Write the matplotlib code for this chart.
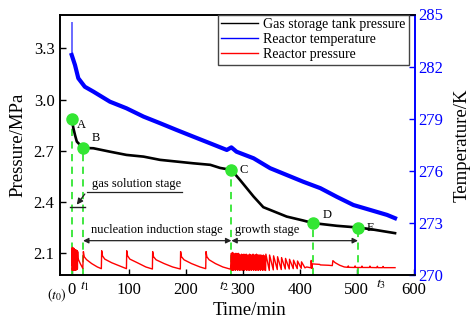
import matplotlib
matplotlib.use('Agg')
import matplotlib.pyplot as plt
import matplotlib.transforms as mtransforms

plt.rcParams['font.family'] = ['Liberation Serif', 'DejaVu Serif']
plt.rcParams['mathtext.fontset'] = 'stix'

# ---------------- data ----------------
tank_t = [0, 3, 6, 9, 14.5, 20, 38, 67, 96, 126, 155, 184, 213, 243, 260, 280,
          295, 319, 336, 348, 377, 406, 423, 465, 502, 523, 567]
tank_p = [2.886, 2.832, 2.79, 2.754, 2.735, 2.717, 2.715, 2.695, 2.676, 2.666,
          2.647, 2.637, 2.627, 2.618, 2.60, 2.588, 2.53, 2.432, 2.37, 2.354,
          2.315, 2.292, 2.277, 2.261, 2.251, 2.242, 2.218]

temp_t = [0, 0, 5.8, 11.6, 23, 38, 67, 96, 126, 155, 184, 213, 243, 272, 280,
          289, 319, 348, 377, 406, 436, 465, 494, 523, 553, 567]
temp_k = [284.49, 282.67, 282.09, 281.33, 280.84, 280.56, 279.98, 279.6, 279.12,
          278.74, 278.35, 277.97, 277.58, 277.2, 277.35, 277.1, 276.72, 276.15,
          275.76, 275.37, 275.0, 274.5, 274.03, 273.75, 273.46, 273.27]

rp_t = [0, 0.5, 1, 1.5, 2, 2.5, 3, 3.5, 4, 4.5, 5, 5.5, 6, 6.5, 7, 7.5, 8, 8.5,
        9, 9.5, 10, 10.5, 11, 15, 19.5,
        20.5, 22, 26, 35, 45, 52,
        52.6, 54, 58, 70, 85, 96,
        96.5, 98, 102, 115, 130, 141.5,
        142, 143.5, 148, 162, 177, 190.5,
        191, 192.5, 197, 210, 225, 235,
        235.6, 237, 241, 252, 265, 278.5,
        280, 281, 282, 283, 284, 285, 286, 287, 288, 289, 290, 291, 292, 293,
        294, 295, 296, 297, 298, 299, 300, 301, 302, 303, 304, 305, 306, 307,
        308, 309, 310, 311, 312, 313, 314, 315, 316, 317, 318, 319, 320, 321,
        322, 323, 324, 325, 326, 327, 328, 329, 330, 331, 332, 333, 334, 335,
        336, 337, 338, 339,
        340, 340.5, 346.5, 347, 353.5, 354, 360.5, 361, 367.5, 368, 374.5, 375,
        381.5, 382, 388.5, 389, 395.5, 396, 402.5, 403, 409,
        412, 419.5, 420, 421, 422, 435, 436, 450, 457, 458, 462, 470, 478,
        484, 485, 486, 496, 497, 498, 508, 509, 510, 522, 523, 524, 535, 536,
        537, 545, 546, 547, 567]
rp_p = [2.03, 2.13, 2.00, 2.135, 2.00, 2.125, 2.00, 2.13, 2.005, 2.125, 2.00,
        2.12, 2.005, 2.12, 2.00, 2.12, 2.005, 2.115, 2.005, 2.115, 2.01, 2.11,
        2.07, 2.04, 2.012,
        2.11, 2.08, 2.063, 2.04, 2.02, 2.01,
        2.115, 2.085, 2.066, 2.045, 2.025, 2.01,
        2.115, 2.085, 2.066, 2.045, 2.02, 2.008,
        2.11, 2.08, 2.062, 2.04, 2.02, 2.008,
        2.11, 2.08, 2.062, 2.04, 2.02, 2.01,
        2.11, 2.08, 2.062, 2.04, 2.02, 2.007,
        2.10, 2.00, 2.105, 2.00, 2.10, 2.005, 2.095, 2.00, 2.10, 2.005, 2.095,
        2.00, 2.10, 2.005, 2.095, 2.00, 2.09, 2.005, 2.095, 2.00, 2.09, 2.005,
        2.095, 2.00, 2.09, 2.005, 2.095, 2.00, 2.09, 2.005, 2.09, 2.00, 2.095,
        2.005, 2.09, 2.00, 2.09, 2.005, 2.095, 2.00, 2.09, 2.005, 2.09, 2.00,
        2.095, 2.005, 2.09, 2.00, 2.09, 2.005, 2.09, 2.00, 2.09, 2.005, 2.085,
        2.00, 2.09, 2.005, 2.085, 2.00,
        2.0, 2.095, 2.0, 2.09, 2.003, 2.085, 2.005, 2.08, 2.005, 2.075, 2.008,
        2.07, 2.008, 2.065, 2.01, 2.06, 2.01, 2.055, 2.012, 2.05, 2.015,
        2.02, 2.015, 2.058, 2.012, 2.038, 2.035, 2.032, 2.03, 2.028, 2.057,
        2.045, 2.03, 2.02, 2.018, 2.026, 2.018, 2.017, 2.026, 2.017, 2.017,
        2.025, 2.017, 2.017, 2.025, 2.017, 2.016, 2.024, 2.016, 2.016, 2.023,
        2.016, 2.016]

point_labels = ['A', 'B', 'C', 'D', 'E']
point_t = [0, 20, 280, 423, 502]
point_p = [2.886, 2.717, 2.588, 2.277, 2.251]
label_offsets = [(4, -4), (6, 7), (6, 0), (7, 6), (6, 0)]

xticks = [0, 100, 200, 300, 400, 500, 600]
left_yticks = [2.1, 2.4, 2.7, 3.0, 3.3]
right_yticks = [270, 273, 276, 279, 282, 285]

series_names = ['Gas storage tank pressure', 'Reactor temperature', 'Reactor pressure']

# ---------------- figure ----------------
fig = plt.figure(figsize=(4.73, 3.2), dpi=100)
ax = fig.add_axes([60/473, 45/320, 355/473, 260.5/320])
ax2 = ax.twinx()

XMIN, XMAX = -20.5, 602
YMIN, YMAX = 1.973, 3.498
ax.set_xlim(XMIN, XMAX)
ax.set_ylim(YMIN, YMAX)
ax2.set_ylim(270, 285)

l_tank, = ax.plot(tank_t, tank_p, color='black', lw=1.9, zorder=3)
l_rp, = ax.plot(rp_t, rp_p, color='#ff0000', lw=1.0, zorder=3)
ax2.plot(temp_t[:2], temp_k[:2], color='#6a6aff', lw=1.4)
l_temp, = ax2.plot(temp_t[1:], temp_k[1:], color='#0000ff', lw=3.0)

green = '#33e633'
ax.vlines(point_t, YMIN, point_p, colors=green, linestyles=(0, (4, 3)), lw=1.3, zorder=2)
ax.plot(point_t, point_p, 'o', color=green, ms=8, zorder=5)
for lab, t, p, off in zip(point_labels, point_t, point_p, label_offsets):
    ax.annotate(lab, (t, p), xytext=off, textcoords='offset points',
                fontsize=9, ha='left', va='center')

# stage annotations
arrow_col = '#222222'
ax.plot([point_t[0] - 3, point_t[1] + 3], [2.372, 2.372], color=arrow_col, lw=1)
ax.plot([26, 193], [2.46, 2.46], color=arrow_col, lw=0.9)
ax.annotate('', xy=(6, 2.372), xytext=(26, 2.46),
            arrowprops=dict(arrowstyle='-|>', color=arrow_col, lw=0.9, mutation_scale=9))
ax.text(114, 2.468, 'gas solution stage', fontsize=9, ha='center', va='bottom')

ax.annotate('', xy=(point_t[1], 2.174), xytext=(point_t[2], 2.174),
            arrowprops=dict(arrowstyle='<|-|>', color=arrow_col, lw=0.9,
                            mutation_scale=8, shrinkA=0, shrinkB=0))
ax.text(150, 2.20, 'nucleation induction stage', fontsize=9, ha='center', va='bottom')
ax.annotate('', xy=(point_t[2], 2.174), xytext=(point_t[4], 2.174),
            arrowprops=dict(arrowstyle='<|-|>', color=arrow_col, lw=0.9,
                            mutation_scale=8, shrinkA=0, shrinkB=0))
ax.text(342, 2.20, 'growth stage', fontsize=9, ha='center', va='bottom')

# ticks and labels
ax.set_xticks(xticks)
ax.set_xticklabels([str(v) for v in xticks])
ax.set_yticks(left_yticks)
ax.set_yticklabels(['%.1f' % v for v in left_yticks])
ax2.set_yticks(right_yticks)
ax.tick_params(axis='both', direction='in', length=4, width=1, labelsize=12, pad=4)
ax.tick_params(axis='x', pad=5)
ax2.tick_params(axis='y', direction='in', length=4, width=1, labelsize=12,
                colors='#0000ff', pad=2)
for s in ['top', 'bottom', 'left']:
    ax.spines[s].set_linewidth(1.2)
    ax2.spines[s].set_linewidth(1.2)
ax2.spines['right'].set_color('#0000ff')
ax2.spines['right'].set_linewidth(1.4)
ax.spines['right'].set_visible(False)

trans = mtransforms.blended_transform_factory(ax.transData, ax.transAxes)
ax.text(-7.5, -0.045, r'$(t_0)$', transform=trans, ha='right', va='top', fontsize=10)
ax.text(23, -0.015, r'$t_1$', transform=trans, ha='center', va='top', fontsize=10)
ax.text(268, -0.015, r'$t_2$', transform=trans, ha='center', va='top', fontsize=10)
ax.text(542, -0.008, r'$t_3$', transform=trans, ha='center', va='top', fontsize=10)

ax.set_xlabel('Time/min', fontsize=13.5, labelpad=2)
ax.xaxis.set_label_coords(0.535, -0.105)
ax.set_ylabel('Pressure/MPa', fontsize=13.5, labelpad=5)
ax2.set_ylabel('Temperature/K', fontsize=13.5, labelpad=8)

leg = ax2.legend([l_tank, l_temp, l_rp], series_names, loc='upper right',
                 bbox_to_anchor=(0.983, 1.0), fontsize=10, frameon=True,
                 fancybox=False, edgecolor='#444444', framealpha=1,
                 handlelength=2.6, labelspacing=0.15, borderpad=0.25,
                 handletextpad=0.4, borderaxespad=0)
leg.get_frame().set_linewidth(1.0)
for h in leg.get_lines():
    h.set_linewidth(1.0)

fig.savefig('out.png', dpi=100)
